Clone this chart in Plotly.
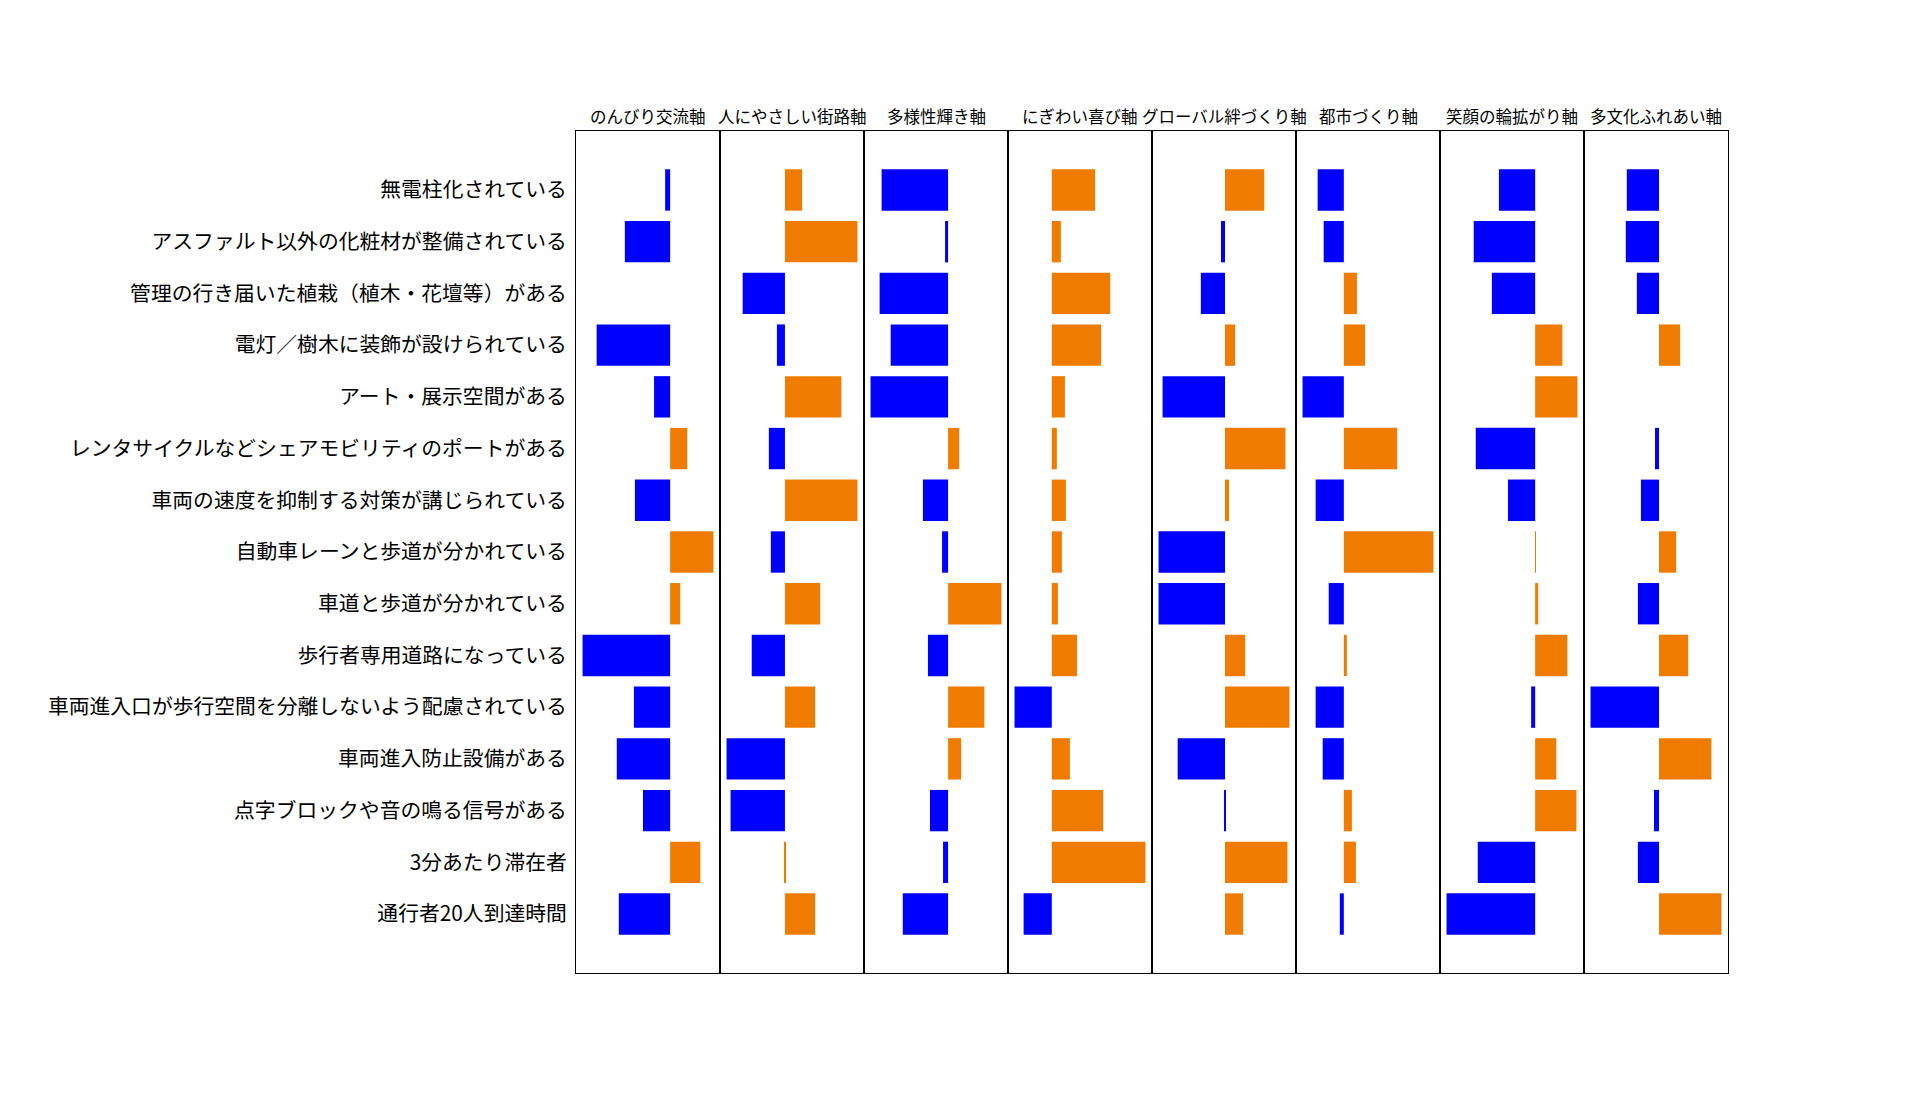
import plotly.graph_objects as go
from plotly.subplots import make_subplots

categories = [
    "無電柱化されている",
    "アスファルト以外の化粧材が整備されている",
    "管理の行き届いた植栽（植木・花壇等）がある",
    "電灯／樹木に装飾が設けられている",
    "アート・展示空間がある",
    "レンタサイクルなどシェアモビリティのポートがある",
    "車両の速度を抑制する対策が講じられている",
    "自動車レーンと歩道が分かれている",
    "車道と歩道が分かれている",
    "歩行者専用道路になっている",
    "車両進入口が歩行空間を分離しないよう配慮されている",
    "車両進入防止設備がある",
    "点字ブロックや音の鳴る信号がある",
    "3分あたり滞在者",
    "通行者20人到達時間",
]

panel_titles = [
    "のんびり交流軸", "人にやさしい街路軸", "多様性輝き軸", "にぎわい喜び軸",
    "グローバル絆づくり軸", "都市づくり軸", "笑顔の輪拡がり軸", "多文化ふれあい軸",
]

nonbiri   = [-0.05, -0.45, 0.00, -0.73, -0.16, 0.17, -0.35, 0.43, 0.10, -0.87, -0.36, -0.53, -0.27, 0.30, -0.51]
yasashii  = [0.17, 0.72, -0.42, -0.08, 0.56, -0.16, 0.72, -0.14, 0.35, -0.33, 0.30, -0.58, -0.54, 0.01, 0.30]
tayousei  = [-0.66, -0.03, -0.68, -0.57, -0.77, 0.11, -0.25, -0.06, 0.53, -0.20, 0.36, 0.13, -0.18, -0.05, -0.45]
nigiwai   = [0.43, 0.09, 0.58, 0.49, 0.13, 0.05, 0.14, 0.10, 0.06, 0.25, -0.37, 0.18, 0.51, 0.93, -0.28]
global_k  = [0.39, -0.04, -0.24, 0.10, -0.62, 0.60, 0.04, -0.66, -0.66, 0.20, 0.64, -0.47, -0.01, 0.62, 0.18]
toshi     = [-0.26, -0.20, 0.13, 0.21, -0.41, 0.53, -0.28, 0.89, -0.15, 0.03, -0.28, -0.21, 0.08, 0.12, -0.04]
egao      = [-0.36, -0.61, -0.43, 0.27, 0.42, -0.59, -0.27, 0.007, 0.03, 0.32, -0.04, 0.21, 0.41, -0.57, -0.88]
tabunka   = [-0.32, -0.33, -0.22, 0.21, 0.00, -0.04, -0.18, 0.17, -0.21, 0.29, -0.68, 0.52, -0.05, -0.21, 0.62]

panels = [nonbiri, yasashii, tayousei, nigiwai, global_k, toshi, egao, tabunka]

BLUE = "#0000FF"
ORANGE = "#EF7B00"
FONT = "Noto Sans CJK JP"

n = len(categories)
fig = make_subplots(rows=1, cols=len(panels), shared_yaxes=True, horizontal_spacing=0)

for i, vals in enumerate(panels, start=1):
    colors = [BLUE if v < 0 else ORANGE for v in vals]
    fig.add_trace(
        go.Bar(
            x=vals, y=list(range(n)), orientation="h", width=0.8,
            marker=dict(color=colors, line=dict(width=0)),
            showlegend=False, hoverinfo="x+y",
        ),
        row=1, col=i,
    )
    mn = min(min(vals), 0)
    mx = max(max(vals), 0)
    span = mx - mn
    fig.update_xaxes(
        range=[mn - 0.05 * span, mx + 0.05 * span],
        showticklabels=False, ticks="", showgrid=False, zeroline=False,
        showline=True, mirror=True, linecolor="black", linewidth=1,
        row=1, col=i,
    )
    fig.update_yaxes(
        showgrid=False, zeroline=False, showline=True, mirror=True,
        linecolor="black", linewidth=1, range=[n - 1 + 1.14, -1.14],
        row=1, col=i,
    )
    dom = fig.layout["xaxis" if i == 1 else f"xaxis{i}"].domain
    fig.add_annotation(
        x=(dom[0] + dom[1]) / 2, y=1, xref="paper", yref="paper",
        text=panel_titles[i - 1], showarrow=False, xanchor="center",
        yanchor="middle", yshift=15, font=dict(size=16.5, color="black", family=FONT),
    )

fig.update_yaxes(
    tickmode="array", tickvals=list(range(n)), ticktext=categories,
    ticks="outside", ticklen=4, tickcolor="rgba(0,0,0,0)",
    tickfont=dict(size=20.8, color="black", family=FONT),
    row=1, col=1,
)

fig.update_layout(
    width=1920, height=1093, autosize=False,
    margin=dict(l=576, r=192, t=131, b=120, pad=0),
    plot_bgcolor="white", paper_bgcolor="white",
    font=dict(family=FONT, color="black"),
    bargap=0.2,
)

fig.write_html("out.html")
